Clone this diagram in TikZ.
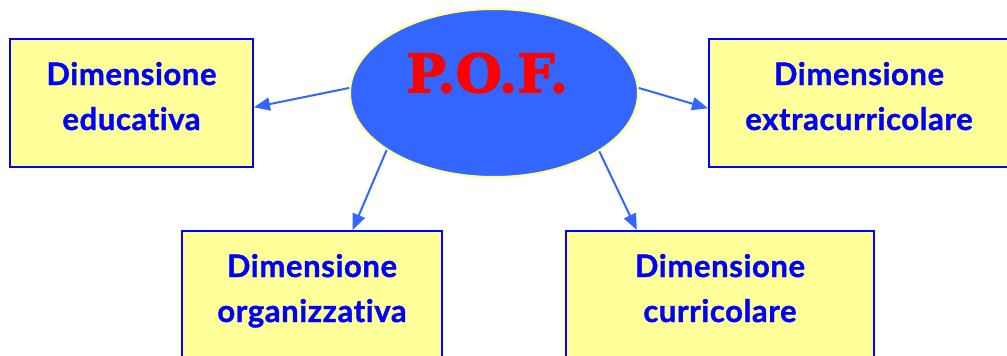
\documentclass[tikz,border=0pt]{standalone}
\usepackage{fontspec}
\setmainfont{Lato}[Ligatures=NoCommon, BoldFeatures={FakeBold=1.2, LetterSpace=2}]
\newfontfamily\pofserif{DejaVu Serif}[BoldFeatures={FakeBold=2.5}]
\usepackage{tikz}
\usetikzlibrary{shapes.geometric, arrows.meta, positioning, calc}
\definecolor{boxblue}{HTML}{0000FF}
\definecolor{boxyellow}{HTML}{FFFF99}
\definecolor{ovalblue}{HTML}{3366FF}
\definecolor{rimyellow}{HTML}{FFFF99}
\definecolor{pofred}{HTML}{FF0000}
\tikzstyle{dimbox} = [rectangle, draw=boxblue, line width=2pt, fill=boxyellow, text=boxblue, align=center, inner sep=0pt, text height=68pt, text depth=14pt, font=\bfseries\fontsize{31}{45}\selectfont]
\tikzstyle{arrow} = [-{Triangle[length=16pt, width=13pt]}, line width=2pt, color=ovalblue]

\begin{document}
\begin{tikzpicture}[
    x=1pt, y=-1pt,
    pofoval/.style={ellipse, minimum width=288pt, minimum height=168pt, inner sep=0pt,
      draw=rimyellow, line width=2pt, fill=ovalblue},
    poftext/.style={text=pofred, font=\pofserif\bfseries\fontsize{53}{53}\selectfont, inner sep=0pt}
  ]
    \useasboundingbox (0,0) rectangle (1007,356);
    \begin{scope}
    \clip (0,0) rectangle (1007,356);

    % Centre: the P.O.F. oval
    \node[pofoval] (pof) at (494,93) {};
    \node[poftext] (poflabel) at (487,73) {P.O.F.};

    % Top row: beside the oval
    \node[dimbox, minimum width=243pt, minimum height=128pt] (edu) at (131.5,103) {Dimensione\\educativa};
    \node[dimbox, minimum width=300pt, minimum height=128pt] (extra) at (859,103) {Dimensione\\extracurricolare};

    % Bottom row: under the oval
    \node[dimbox, minimum width=260pt, minimum height=128pt] (org) at (312,295) {Dimensione\\organizzativa};
    \node[dimbox, minimum width=308pt, minimum height=128pt] (curr) at (720,295) {Dimensione\\curricolare};
    \end{scope}

    \draw[arrow] (pof.178) -- (edu.-2.5);
    \draw[arrow] (pof.2) -- (extra.182.5);
    \draw[arrow] (pof.208.7) -- (org.58.6);
    \draw[arrow] (pof.331.3) -- (curr.142.4);
  \end{tikzpicture}
\end{document}
